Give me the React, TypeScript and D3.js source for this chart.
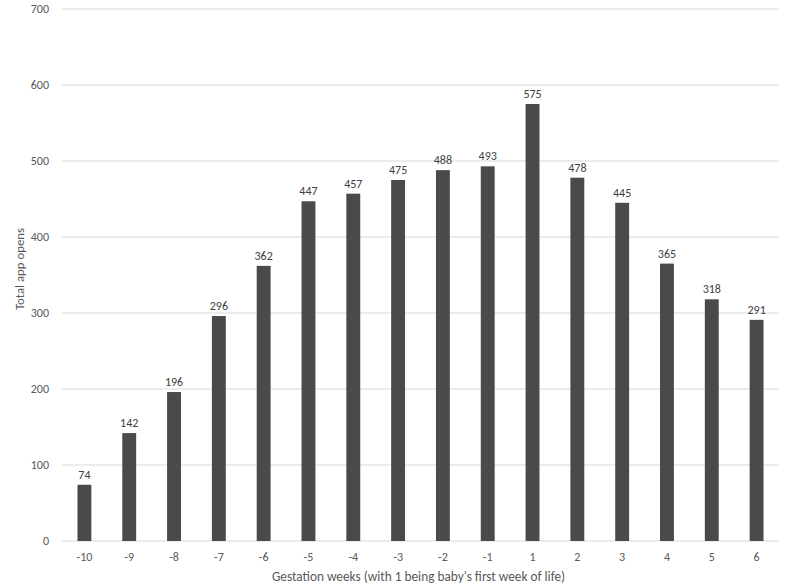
import React from "react";
import * as d3 from "d3";

const categories = ["-10","-9","-8","-7","-6","-5","-4","-3","-2","-1","1","2","3","4","5","6"];
const values = [74,142,196,296,362,447,457,475,488,493,575,478,445,365,318,291];
const yTicks = [0,100,200,300,400,500,600,700];

export default function App() {
  const W = 790, H = 588;
  const left = 62, right = 779, top = 9, bottom = 541;
  const x = d3.scaleBand<string>().domain(categories).range([left, right]).paddingInner(0.69).paddingOuter(0.345);
  const y = d3.scaleLinear().domain([0, 700]).range([bottom, top]);
  const font = "Carlito, Calibri, Lato, 'Open Sans', sans-serif";
  const textColor = "#595959";
  return (
    <svg width={W} height={H} style={{ position: "absolute", left: 0, top: 0, background: "#fff" }} fontFamily={font}>
      {yTicks.map(t => (
        <g key={t}>
          <line x1={left} x2={right} y1={y(t)} y2={y(t)} stroke="#d9d9d9" strokeWidth={1} />
          <text x={49} y={y(t)} dy="0.35em" textAnchor="end" fontSize={12} fill={textColor}>{t}</text>
        </g>
      ))}
      {categories.map((c, i) => (
        <g key={c}>
          <rect x={x(c)} y={y(values[i])} width={x.bandwidth()} height={bottom - y(values[i])} fill="#4a4a4a" />
          <text x={(x(c) as number) + x.bandwidth() / 2} y={y(values[i]) - 6} textAnchor="middle" fontSize={12} fill="#404040">{values[i]}</text>
          <text x={(x(c) as number) + x.bandwidth() / 2} y={557} dy="0.35em" textAnchor="middle" fontSize={12} fill={textColor}>{c}</text>
        </g>
      ))}
      <text x={418.5} y={581} textAnchor="middle" fontSize={13.3} fill={textColor}>Gestation weeks (with 1 being baby's first week of life)</text>
      <text transform={`translate(24, 269) rotate(-90)`} textAnchor="middle" fontSize={12.8} fill={textColor}>Total app opens</text>
    </svg>
  );
}
